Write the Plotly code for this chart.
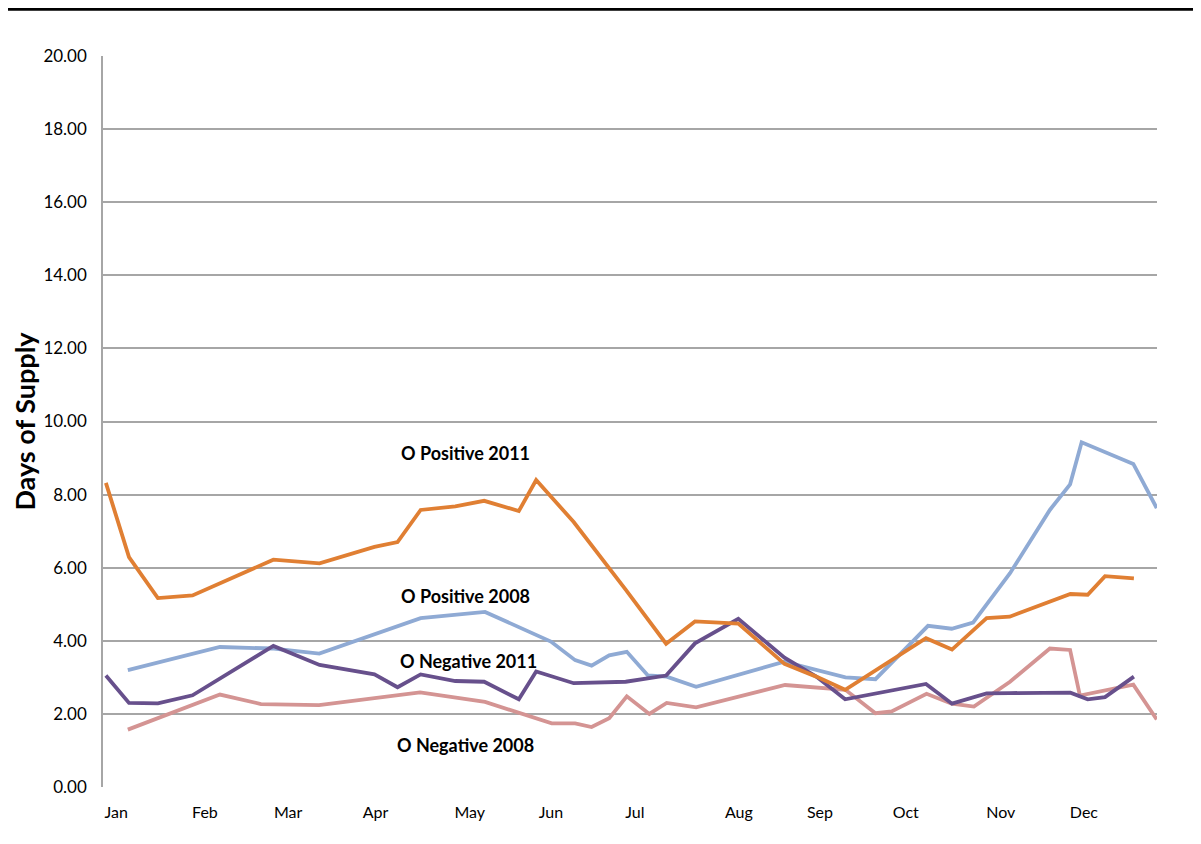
import plotly.graph_objects as go

# x values are day of year (both years drawn on one Jan-Dec axis)
days_2011 = [1, 9, 19, 31, 59, 75, 94, 102, 110, 122, 132, 144, 150, 163, 181,
             195, 205, 220, 236, 247, 257, 285, 294, 306, 314, 335, 341, 347, 357]
o_pos_2011 = [8.32, 6.29, 5.17, 5.24, 6.22, 6.12, 6.57, 6.70, 7.58, 7.68, 7.83, 7.55, 8.40, 7.25, 5.40,
              3.92, 4.53, 4.47, 3.37, 3.02, 2.66, 4.07, 3.76, 4.62, 4.66, 5.28, 5.26, 5.77, 5.71]
o_neg_2011 = [3.05, 2.30, 2.29, 2.51, 3.86, 3.34, 3.08, 2.73, 3.08, 2.90, 2.88, 2.40, 3.16, 2.84, 2.88,
              3.05, 3.93, 4.60, 3.54, 3.02, 2.40, 2.82, 2.28, 2.56, 2.57, 2.58, 2.40, 2.46, 3.02]

days_pos_2008 = [8.6, 40.5, 58.4, 74.9, 110.0, 132.3, 155.1, 163.5, 169.2, 175.3, 181.4, 188.7, 195.2,
                 205.4, 235.9, 257.1, 267.5, 285.7, 293.9, 301.3, 314.1, 327.9, 334.9, 338.9, 356.8, 364.9]
o_pos_2008 = [3.20, 3.83, 3.79, 3.65, 4.62, 4.79, 3.98, 3.47, 3.32, 3.60, 3.70, 3.05, 3.02,
              2.74, 3.43, 3.00, 2.95, 4.41, 4.33, 4.50, 5.85, 7.58, 8.28, 9.43, 8.84, 7.63]

days_neg_2008 = [8.6, 40.5, 54.7, 74.8, 109.8, 132.3, 155.4, 163.5, 169.2, 175.3, 181.4, 189.2, 195.2,
                 205.4, 236.2, 257.1, 267.5, 273.1, 285.2, 293.9, 301.6, 314.1, 327.9, 334.9, 338.3,
                 356.8, 364.9]
o_neg_2008 = [1.57, 2.53, 2.27, 2.24, 2.59, 2.33, 1.74, 1.74, 1.64, 1.88, 2.48, 2.00, 2.30,
              2.18, 2.79, 2.66, 2.02, 2.07, 2.55, 2.28, 2.20, 2.88, 3.79, 3.75, 2.50, 2.80, 1.85]

month_labels = ["Jan", "Feb", "Mar", "Apr", "May", "Jun", "Jul", "Aug", "Sep", "Oct", "Nov", "Dec"]
month_ticks = [4.6, 35.3, 64.1, 94.4, 127.0, 155.1, 184.2, 220.2, 248.3, 278.0, 310.9, 339.7]

y_ticks = [0, 2, 4, 6, 8, 10, 12, 14, 16, 18, 20]

series = [
    ("O Positive 2008", days_pos_2008, o_pos_2008, "#8FAAD4"),
    ("O Negative 2008", days_neg_2008, o_neg_2008, "#D49493"),
    ("O Negative 2011", days_2011, o_neg_2011, "#67508C"),
    ("O Positive 2011", days_2011, o_pos_2011, "#E07F33"),
]

# label text and where it sits (day, value)
labels = [
    ("O Positive 2011", 125.5, 9.14),
    ("O Positive 2008", 125.5, 5.23),
    ("O Negative 2011", 126.6, 3.45),
    ("O Negative 2008", 125.7, 1.15),
]

fig = go.Figure()
for name, xs, ys, color in series:
    fig.add_trace(go.Scatter(
        x=xs, y=ys, name=name, mode="lines",
        line=dict(color=color, width=3.8),
        showlegend=False,
    ))

for text, lx, ly in labels:
    fig.add_annotation(
        x=lx, y=ly, text=f"<b>{text}</b>", showarrow=False,
        font=dict(family="Lato", size=18, color="#000000"),
    )

# black rule across the top of the page
fig.add_shape(
    type="line", xref="paper", yref="paper",
    x0=-0.1, x1=1.05, y0=1.0638, y1=1.0638,
    line=dict(color="#000000", width=3),
)

# the page body adds an 8px margin around the figure
fig.update_layout(
    width=1185,
    height=828,
    margin=dict(l=95, r=36, t=48, b=49),
    paper_bgcolor="#FFFFFF",
    plot_bgcolor="#FFFFFF",
    font=dict(family="Lato", size=16, color="#000000"),
)
fig.update_xaxes(
    range=[0, 365],
    tickvals=month_ticks,
    ticktext=month_labels,
    showgrid=False,
    zeroline=False,
    showline=False,
    ticks="",
    ticklabelstandoff=14,
    automargin=False,
    tickfont=dict(family="Lato", size=16),
)
fig.update_yaxes(
    range=[0, 20],
    tickvals=y_ticks,
    tickformat=".2f",
    showgrid=True,
    gridcolor="#A6A6A6",
    gridwidth=1.5,
    zeroline=False,
    showline=True,
    linecolor="#A6A6A6",
    linewidth=1.5,
    ticks="",
    ticklabelstandoff=11,
    automargin=False,
    tickfont=dict(family="Lato", size=17),
    title=dict(text="<b>Days of Supply</b>", font=dict(family="Lato", size=27), standoff=14),
)

fig.write_html("out.html")
